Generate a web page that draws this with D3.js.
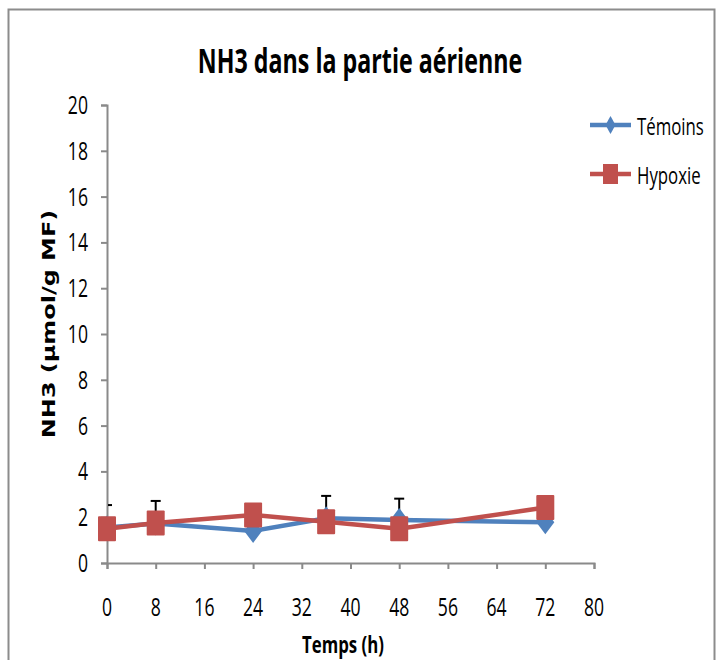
<!DOCTYPE html>
<html>
<head>
<meta charset="utf-8">
<script src="https://cdn.jsdelivr.net/npm/d3@7"></script>
<style>
  body { margin: 0; background: #fff; }
  text { fill: #000; }
</style>
</head>
<body>
<div id="chart"></div>
<script>
let w = 721,
    h = 660;

// plot area
let margin = { top: 105, left: 107, right: 127, bottom: 97 };

let heures = [0, 8, 24, 36, 48, 72];
let temoins = [1.55, 1.73, 1.4, 1.95, 1.88, 1.78];
let temoinsErr = [0.98, 0.98, 0.98, 0.98, 0.93, 0.9];
let hypoxie = [1.5, 1.75, 2.1, 1.8, 1.5, 2.42];
let xTicks = [0, 8, 16, 24, 32, 40, 48, 56, 64, 72, 80];
let yTicks = [0, 2, 4, 6, 8, 10, 12, 14, 16, 18, 20];

let blue = "#4F81BD",
    red = "#C0504D",
    axisGrey = "#8a8a8a";

let narrow = "'Open Sans', 'Liberation Sans', sans-serif";

let svg = d3.select("#chart")
            .append("svg")
            .attr("width", w)
            .attr("height", h);

// chart frame
svg.append("rect")
   .attr("x", 8.5).attr("y", 9.5)
   .attr("width", 706).attr("height", 660)
   .attr("fill", "none")
   .attr("stroke", "#8c8c8c")
   .attr("stroke-width", 2);

let x = d3.scaleLinear().domain([0, 80]).range([margin.left, w - margin.right]);
let y = d3.scaleLinear().domain([0, 20]).range([h - margin.bottom, margin.top]);

// squeezed/stretched text helper (the source font is a condensed one)
function label(g, px, py, str, opts) {
  let sx = opts.sx || 0.8,
      sy = opts.sy || 1.15;
  let t = g.append("g")
           .attr("transform", `translate(${px},${py}) scale(${sx},${sy})` + (opts.rot ? ` rotate(${opts.rot})` : ""))
           .append("text")
           .attr("font-family", opts.family || narrow)
           .attr("font-size", opts.size)
           .attr("font-weight", opts.weight || "normal")
           .attr("text-anchor", opts.anchor || "start")
           .text(str);
  return t;
}

// title
label(svg, 360, 73, "NH3 dans la partie aérienne", { size: 30, weight: "bold", anchor: "middle", sx: 0.775, sy: 1.16 });

// axes
let xAxis = svg.append("g")
   .attr("transform", `translate(0,${y(0)})`)
   .call(d3.axisBottom(x).tickValues(xTicks).tickSize(6).tickFormat(""));
let yAxis = svg.append("g")
   .attr("transform", `translate(${x(0)},0)`)
   .call(d3.axisLeft(y).tickValues(yTicks).tickSize(6).tickFormat(""));

[xAxis, yAxis].forEach(a => {
  a.select(".domain").attr("stroke", axisGrey).attr("stroke-width", 2);
  a.selectAll(".tick line").attr("stroke", axisGrey).attr("stroke-width", 2);
});

xTicks.forEach(v => label(svg, x(v), 616, v, { size: 22, anchor: "middle" }));
yTicks.forEach(v => label(svg, 88, y(v) + 9, v, { size: 22, anchor: "end" }));

label(svg, 343, 653, "Temps (h)", { size: 21, weight: "bold", anchor: "middle", sy: 1.1 });
label(svg, 55, 324, "NH3 (µmol/g MF)", { size: 18, weight: "bold", anchor: "middle", sx: 1, sy: 1.33, rot: -90,
                                          family: "'DejaVu Sans', Verdana, sans-serif" });

let plot = svg.append("g");

svg.append("clipPath").attr("id", "clip")
   .append("rect")
   .attr("x", x(0) + 1).attr("y", 0)
   .attr("width", w).attr("height", y(0));

let line = d3.line()
             .x(d => x(d[0]))
             .y(d => y(d[1]));

// Témoins: error bars (plus only), line, diamonds
let errG = plot.append("g").attr("clip-path", "url(#clip)");
heures.forEach((t, i) => {
  let top = y(temoins[i] + temoinsErr[i]);
  errG.append("line")
      .attr("x1", x(t)).attr("x2", x(t))
      .attr("y1", y(temoins[i])).attr("y2", top)
      .attr("stroke", "#000").attr("stroke-width", 2);
  errG.append("line")
      .attr("x1", x(t) - 5).attr("x2", x(t) + 5)
      .attr("y1", top).attr("y2", top)
      .attr("stroke", "#000").attr("stroke-width", 2);
});

let temoinsPts = heures.map((t, i) => [t, temoins[i]]);
let hypoxiePts = heures.map((t, i) => [t, hypoxie[i]]);

plot.append("path")
    .datum(temoinsPts)
    .attr("d", line)
    .attr("fill", "none")
    .attr("stroke", blue)
    .attr("stroke-width", 4.5);

function diamond(g, cx, cy, hw, hh) {
  g.append("path")
   .attr("d", `M${cx},${cy - hh}L${cx + hw},${cy}L${cx},${cy + hh}L${cx - hw},${cy}Z`)
   .attr("fill", blue);
}
temoinsPts.forEach(d => diamond(plot, x(d[0]), y(d[1]), 9, 12));

plot.append("path")
    .datum(hypoxiePts)
    .attr("d", line)
    .attr("fill", "none")
    .attr("stroke", red)
    .attr("stroke-width", 4.5);

plot.selectAll(".sq")
    .data(hypoxiePts)
    .enter()
    .append("rect")
    .attr("class", "sq")
    .attr("x", d => x(d[0]) - 9)
    .attr("y", d => y(d[1]) - 12.5)
    .attr("width", 18)
    .attr("height", 25)
    .attr("rx", 1)
    .attr("fill", red);

// legend
let legend = svg.append("g");
let series = [
  { name: "Témoins", color: blue, y: 125 },
  { name: "Hypoxie", color: red, y: 174 }
];
series.forEach(s => {
  legend.append("line")
        .attr("x1", 590).attr("x2", 631)
        .attr("y1", s.y).attr("y2", s.y)
        .attr("stroke", s.color).attr("stroke-width", 4.5);
  if (s.name == "Témoins") {
    diamond(legend, 610.5, s.y, 5, 9);
  } else {
    legend.append("rect")
          .attr("x", 603).attr("y", s.y - 10)
          .attr("width", 15).attr("height", 20)
          .attr("fill", red);
  }
  label(legend, 637, s.y + 10, s.name, { size: 21, sy: 1.12 });
});
</script>
</body>
</html>
